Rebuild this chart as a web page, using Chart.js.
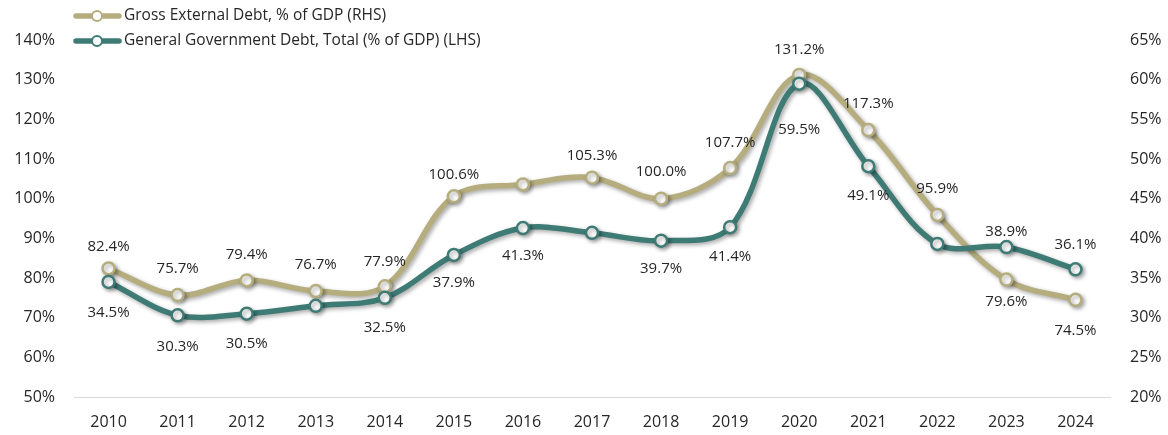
<!DOCTYPE html>
<html>
<head>
<meta charset="utf-8">
<script src="https://cdn.jsdelivr.net/npm/chart.js@4"></script>
<style>
    html, body { margin: 0; padding: 0; background: #fff; }
    #wrap { width: 1168px; height: 435px; position: relative; }
</style>
</head>
<body>
<div id="wrap"><canvas id="debtChart"></canvas></div>
<script>
const years = ["2010", "2011", "2012", "2013", "2014", "2015", "2016", "2017", "2018", "2019", "2020", "2021", "2022", "2023", "2024"];

// left axis series (gold)
const grossExternalDebt = [82.4, 75.7, 79.4, 76.7, 77.9, 100.6, 103.6, 105.3, 100.0, 107.7, 131.2, 117.3, 95.9, 79.6, 74.5];
// right axis series (teal)
const govDebt = [34.5, 30.3, 30.5, 31.5, 32.5, 37.9, 41.3, 40.7, 39.7, 41.4, 59.5, 49.1, 39.3, 38.9, 36.1];

// which points carry a value label
const grossShowLabel = [1, 1, 1, 1, 1, 1, 0, 1, 1, 1, 1, 1, 1, 1, 1];
const govShowLabel = [1, 1, 1, 0, 1, 1, 1, 0, 1, 1, 1, 1, 0, 1, 1];

const leftTicks = [50, 140, 10];
const rightTicks = [20, 65, 5];

const GOLD = "#b5ad7e";
const TEAL = "#3e7b75";
const FONT = "'Open Sans', 'Noto Sans', sans-serif";
const TEXT = "#262626";

// soft drop shadow under the lines, like the original
const shadowPlugin = {
    id: "lineShadow",
    beforeDatasetDraw(chart) {
        const ctx = chart.ctx;
        ctx.save();
        ctx.shadowColor = "rgba(0,0,0,0.35)";
        ctx.shadowBlur = 4;
        ctx.shadowOffsetX = 2;
        ctx.shadowOffsetY = 2;
    },
    afterDatasetDraw(chart) {
        chart.ctx.restore();
    }
};

// value labels above / below points
const valueLabels = {
    id: "valueLabels",
    afterDatasetsDraw(chart) {
        const ctx = chart.ctx;
        ctx.save();
        ctx.font = "15px " + FONT;
        ctx.fillStyle = TEXT;
        ctx.textAlign = "center";
        ctx.textBaseline = "middle";
        chart.data.datasets.forEach((ds, i) => {
            const meta = chart.getDatasetMeta(i);
            meta.data.forEach((pt, j) => {
                if (!ds.showLabel[j]) return;
                const txt = ds.data[j].toFixed(1) + "%";
                ctx.fillText(txt, pt.x, pt.y + ds.labelDy[j]);
            });
        });
        ctx.restore();
    }
};

// legend drawn at top-left, over the plot
const lineLegend = {
    id: "lineLegend",
    afterDraw(chart) {
        const ctx = chart.ctx;
        const items = [chart.data.datasets[0], chart.data.datasets[1]];
        ctx.save();
        items.forEach((ds, i) => {
            const y = 16 + i * 25;
            ctx.strokeStyle = ds.borderColor;
            ctx.lineWidth = 5.5;
            ctx.lineCap = "round";
            ctx.beginPath();
            ctx.moveTo(76, y);
            ctx.lineTo(119, y);
            ctx.stroke();
            ctx.beginPath();
            ctx.arc(97, y, 5, 0, Math.PI * 2);
            ctx.fillStyle = "#fff";
            ctx.fill();
            ctx.lineWidth = 2;
            ctx.stroke();
            ctx.font = "15.5px " + FONT;
            ctx.fillStyle = TEXT;
            ctx.textAlign = "left";
            ctx.textBaseline = "middle";
            ctx.fillText(ds.label, 124, y);
        });
        ctx.restore();
    }
};

new Chart(document.getElementById("debtChart"), {
    type: "line",
    data: {
        labels: years,
        datasets: [
            {
                label: "Gross External Debt, % of GDP (RHS)",
                data: grossExternalDebt,
                yAxisID: "yLeft",
                borderColor: GOLD,
                borderWidth: 5.5,
                pointRadius: 6,
                pointBorderWidth: 2.5,
                pointBackgroundColor: "#fff",
                pointBorderColor: GOLD,
                tension: 0.35,
                order: 1,
                showLabel: grossShowLabel,
                labelDy: [-22, -26, -26, -26, -25, -22, -24, -22, -27, -25, -25, -26, -26, 22, 31]
            },
            {
                label: "General Government Debt, Total (% of GDP) (LHS)",
                data: govDebt,
                yAxisID: "yRight",
                borderColor: TEAL,
                borderWidth: 5.5,
                pointRadius: 6,
                pointBorderWidth: 2.5,
                pointBackgroundColor: "#fff",
                pointBorderColor: TEAL,
                tension: 0.35,
                order: 0,
                showLabel: govShowLabel,
                labelDy: [31, 31, 30, 30, 30, 28, 28, 28, 28, 30, 46, 30, 28, -15, -25]
            }
        ]
    },
    options: {
        responsive: true,
        maintainAspectRatio: false,
        animation: false,
        layout: { padding: { top: 40, left: 0, right: 0, bottom: 0 } },
        plugins: {
            legend: { display: false },
            tooltip: { enabled: false }
        },
        scales: {
            x: {
                offset: true,
                grid: { display: false, drawTicks: false },
                border: { display: true, color: "#d9d9d9", width: 1 },
                ticks: { color: TEXT, font: { family: FONT, size: 16 }, padding: 16 },
                afterFit: s => { s.height = 38; }
            },
            yLeft: {
                position: "left",
                min: leftTicks[0],
                max: leftTicks[1],
                grid: { display: false, drawTicks: false },
                border: { display: false },
                ticks: {
                    stepSize: leftTicks[2],
                    color: TEXT,
                    padding: 19,
                    font: { family: FONT, size: 16 },
                    callback: v => v + "%"
                },
                afterFit: s => { s.width = 74; }
            },
            yRight: {
                position: "right",
                min: rightTicks[0],
                max: rightTicks[1],
                grid: { display: false, drawTicks: false },
                border: { display: false },
                ticks: {
                    stepSize: rightTicks[2],
                    color: TEXT,
                    padding: 20,
                    font: { family: FONT, size: 16 },
                    callback: v => v + "%"
                },
                afterFit: s => { s.width = 58; }
            }
        }
    },
    plugins: [shadowPlugin, valueLabels, lineLegend]
});
</script>
</body>
</html>
